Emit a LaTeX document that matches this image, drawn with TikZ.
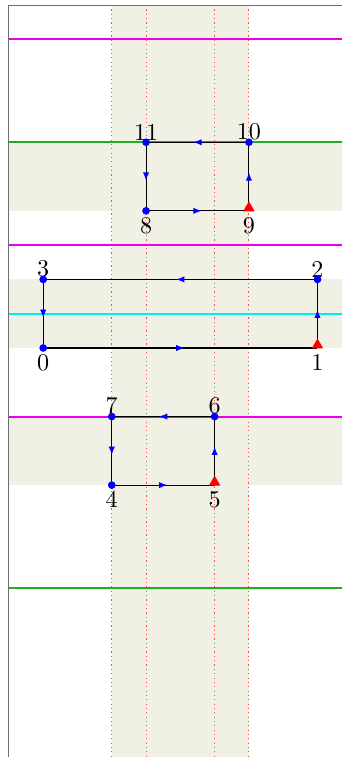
\documentclass[tikz,border=0pt]{standalone}
\usepackage{xcolor}
\usepackage{tikz}
\usetikzlibrary{arrows.meta,shapes.geometric,decorations.markings}
\definecolor{bandbeige}{RGB}{241,240,229}
\definecolor{axisgray}{RGB}{110,110,110}
\definecolor{guidered}{RGB}{240,80,80}
\definecolor{levelgreen}{RGB}{30,175,30}
\definecolor{levelmagenta}{RGB}{235,0,235}
\definecolor{levelcyan}{RGB}{0,235,235}
\tikzset{
  flowedge/.style={draw=black, line width=0.45pt, postaction={decorate},
    decoration={markings, mark=at position 0.5 with {\arrow[xshift=1.7pt, blue, fill=blue!55]{Latex[length=3.4pt,width=2.6pt]}}}},
  vdot/.style={circle, fill=blue, inner sep=0pt, minimum size=3.2pt},
  vstart/.style={regular polygon, regular polygon sides=3, fill=red, inner sep=0pt, minimum size=5.5pt, yshift=1.2pt},
  guide/.style={guidered, line width=0.45pt, dash pattern=on 0.5pt off 1.3pt},
}

\begin{document}
\begin{tikzpicture}[x=0.5cm,y=0.5cm]
  \useasboundingbox (-0.26,-11.93) rectangle (9.71,10.15);
  % shaded bands
  \fill[bandbeige] (3,-11.93) rectangle (7,10);
  \foreach \lo in {4,0,-4} {
    \fill[bandbeige] (0,\lo) rectangle (9.71,\lo+2);
  }
  % guide lines
  \foreach \gx in {3,4,6,7} {
    \draw[guide] (\gx,10) -- (\gx,-11.93);
  }
  \foreach \gy/\gc in {9/levelmagenta, 6/levelgreen, 3/levelmagenta, 1/levelcyan, -2/levelmagenta, -7/levelgreen} {
    \draw[draw=\gc, line width=0.8pt] (0,\gy) -- (9.71,\gy);
  }
  % axes
  \draw[axisgray, line width=0.45pt] (0,-11.93) -- (0,10) -- (9.71,10);
  % vertices
  \foreach \n/\px/\py/\side/\ld in {0/1/0/below/2.5pt, 1/9/0/below/2.5pt, 2/9/2/above/0.7pt, 3/1/2/above/0.7pt,
      4/3/-4/below/2.5pt, 5/6/-4/below/2.5pt, 6/6/-2/above/0.7pt, 7/3/-2/above/0.7pt,
      8/4/4/below/2.5pt, 9/7/4/below/2.5pt, 10/7/6/above/0.7pt, 11/4/6/above/0.7pt} {
    \coordinate[label={[inner sep=0pt, label distance=\ld]\side:\n}] (v\n) at (\px,\py);
  }
  % edges
  \foreach \a/\b in {0/1, 1/2, 2/3, 3/0, 4/5, 5/6, 6/7, 7/4, 8/9, 9/10, 10/11, 11/8} {
    \draw[flowedge] (v\a) -- (v\b);
  }
  % markers
  \foreach \n in {0,2,3,4,6,7,8,10,11} {
    \node[vdot] (d\n) at (v\n) {};
  }
  \foreach \n in {1,5,9} {
    \node[vstart] (s\n) at (v\n) {};
  }
\end{tikzpicture}
\end{document}
